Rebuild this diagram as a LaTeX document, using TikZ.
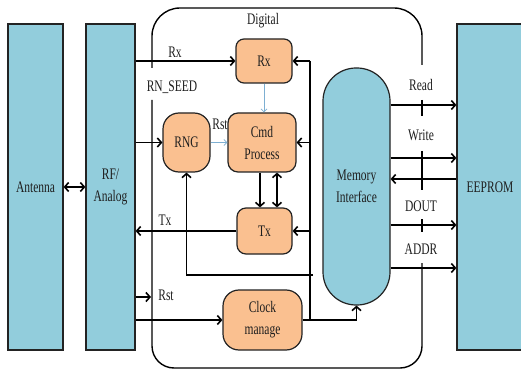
\documentclass[tikz,border=0pt]{standalone}
\usepackage{fontspec}
\setmainfont{Liberation Serif}
\usepackage{graphicx}
\usetikzlibrary{arrows.meta}
\definecolor{boxblue}{RGB}{146,205,220}
\definecolor{boxorange}{RGB}{250,192,144}
\definecolor{edgecol}{RGB}{35,35,35}
\definecolor{thinblue}{RGB}{125,175,210}
\definecolor{txtcol}{RGB}{30,30,30}
\newcommand{\st}[1]{\scalebox{1}[1.4]{#1}}
\begin{document}
\begin{tikzpicture}[x=1pt,y=-1pt,
  font=\fontsize{11.5}{22}\selectfont, text=txtcol,
  bluebox/.style={draw=edgecol,line width=1.2pt,fill=boxblue,inner sep=0pt,align=center},
  orbox/.style={draw=edgecol,line width=1.2pt,fill=boxorange,inner sep=0pt,align=center,rounded corners=#1},
  conn/.style={line width=1.6pt,draw=black,-{Straight Barb[length=4pt,width=9pt]}},
  biconn/.style={line width=1.6pt,draw=black,{Straight Barb[length=4pt,width=9pt]}-{Straight Barb[length=4pt,width=9pt]}},
  plainline/.style={line width=1.6pt,draw=black},
  lconn/.style={line width=0.8pt,draw=thinblue,-{Straight Barb[length=3pt,width=6pt]}},
  cont/.style={line width=1.4pt,draw=black},
  lbl/.style={inner sep=1pt}
]
\useasboundingbox (0,0) rectangle (521,371);
\clip (0,0) rectangle (521,371);
\fill[white] (0,0) rectangle (521,371);

% digital container
\draw[cont, rounded corners=28] (152,68) -- (152,8) -- (422,8) -- (422,65);
\draw[cont, rounded corners=22] (152,100) -- (152,368) -- (422,368) -- (422,263);
\draw[cont] (422,100) -- (422,116);
\draw[cont] (422,151) -- (422,190);
\draw[cont] (422,219) -- (422,232);

% blue blocks
\node[bluebox,minimum width=55,minimum height=326] (ant) at (35.5,187) {\st{Antenna}};
\node[bluebox,minimum width=49,minimum height=326] (rf) at (110.5,187) {\st{RF/}\\\st{Analog}};
\node[bluebox,minimum width=66,minimum height=326] (eep) at (490,187) {\st{EEPROM}};
\node[bluebox,rounded corners=33,minimum width=67,minimum height=237] (mem) at (356.5,186.5) {\st{Memory}\\\st{Interface}};

% orange blocks
\node[orbox=8,minimum width=56,minimum height=44] (rx) at (264,61) {\st{Rx}};
\node[orbox=10,minimum width=68,minimum height=59] (cmd) at (262,142.5) {\st{Cmd}\\\st{Process}};
\node[orbox=16,minimum width=47,minimum height=59] (rng) at (186.5,142.5) {\st{RNG}};
\node[orbox=9,minimum width=55,minimum height=46] (tx) at (264.5,231) {\st{Tx}};
\node[orbox=16,minimum width=79,minimum height=60] (clk) at (262.5,320) {\st{Clock}\\\st{manage}};

% coordinates
\coordinate (bt) at (310,61);
\coordinate (bb) at (310,320);
\coordinate (rngsrc) at (313,275);
\coordinate (rstend) at (151,297);
\coordinate (yR) at (0,105);
\coordinate (yW) at (0,158);
\coordinate (yI) at (0,179);
\coordinate (yD) at (0,225);
\coordinate (yA) at (0,268);

% connectors
\draw[biconn] (ant) -- (rf);
\draw[conn] (rf.east |- rx.west) -- (rx.west);
\draw[conn] (rf.east |- rng.west) -- (rng.west);
\draw[conn] (tx.west) -- (rf.east |- tx.west);
\draw[conn] (rf.east |- rstend) -- (rstend);
\draw[conn] (rf.east |- clk.west) -- (clk.west);

\draw[plainline] (bt) -- (bb);
\draw[conn] (bt) -- (rx.east);
\draw[conn] (bt |- cmd.east) -- (cmd.east);
\draw[conn] (bt |- tx.east) -- (tx.east);
\draw[conn] (clk.east) -| (mem.south);
\draw[conn] (rngsrc) -| (rng.south);

\draw[conn] ([xshift=-2pt]cmd.south) -- ([xshift=-2pt]cmd.south |- tx.north);
\draw[biconn] ([xshift=15pt]cmd.south) -- ([xshift=15pt]cmd.south |- tx.north);

\draw[lconn] (rng.east) -- (cmd.west);
\draw[lconn] (rx.south) -- (rx.south |- cmd.north);

\draw[conn] (mem.east |- yR) -- (eep.west |- yR);
\draw[conn] (mem.east |- yW) -- (eep.west |- yW);
\draw[conn] (eep.west |- yI) -- (mem.east |- yI);
\draw[conn] (mem.east |- yD) -- (eep.west |- yD);
\draw[conn] (mem.east |- yA) -- (eep.west |- yA);

% labels
\node[lbl] (ldig) at (263,21) {\st{Digital}};
\node[lbl] (lrx) at (175,52) {\st{Rx}};
\node[lbl] (lseed) at (172,87) {\st{RN\_SEED}};
\node[lbl] (lrst1) at (220,124) {\st{Rst}};
\node[lbl] (ltx) at (165,220) {\st{Tx}};
\node[lbl] (lrst2) at (166,295) {\st{Rst}};
\node[lbl] (lread) at (421,85) {\st{Read}};
\node[lbl] (lwrite) at (421,135) {\st{Write}};
\node[lbl] (ldout) at (421,206) {\st{DOUT}};
\node[lbl] (laddr) at (421,249) {\st{ADDR}};
\end{tikzpicture}
\end{document}
